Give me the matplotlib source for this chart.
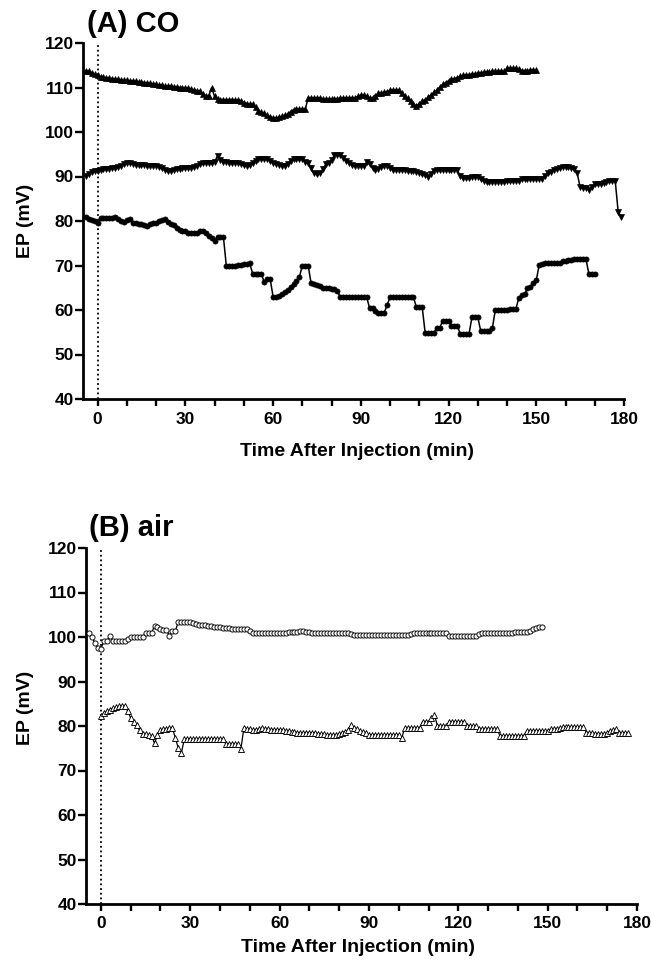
import numpy as np
import matplotlib
matplotlib.use("Agg")
import matplotlib.pyplot as plt

# ---------------- data (1-min sampling) ----------------
# Panel A (CO): three animals
co_top_start = -4
co_top = [113.8, 113.6, 113.3, 113.0, 112.7, 112.4, 112.3, 112.2, 112.1, 112.0,
          111.9, 111.8, 111.7, 111.6, 111.6, 111.5, 111.5, 111.4, 111.3, 111.2,
          111.1, 111.0, 110.9, 110.8, 110.7, 110.6, 110.5, 110.4, 110.3, 110.3,
          110.2, 110.1, 110.0, 110.0, 109.9, 109.8, 109.6, 109.4, 109.3, 109.2,
          108.5, 108.0, 108.2, 109.9, 108.0, 107.4, 107.3, 107.3, 107.2, 107.3,
          107.3, 107.2, 107.2, 107.0, 106.6, 106.4, 106.3, 106.2, 105.6, 104.8,
          104.4, 104.2, 103.8, 103.4, 103.2, 103.1, 103.3, 103.5, 103.8, 104.0,
          104.6, 105.0, 105.1, 105.1, 105.1, 105.1, 107.7, 107.7, 107.6, 107.7,
          107.6, 107.5, 107.4, 107.4, 107.4, 107.5, 107.5, 107.6, 107.6, 107.6,
          107.7, 107.7, 107.7, 108.0, 108.3, 108.3, 108.0, 107.7, 107.7, 108.2,
          108.7, 108.7, 108.9, 109.1, 109.4, 109.4, 109.4, 109.4, 108.7, 108.0,
          107.6, 107.0, 106.3, 105.8, 106.4, 107.0, 107.2, 107.8, 108.3, 108.9,
          109.4, 110.1, 110.7, 111.1, 111.5, 111.8, 112.0, 112.2, 112.5, 112.7,
          112.8, 112.9, 113.0, 113.1, 113.2, 113.3, 113.4, 113.5, 113.5, 113.6,
          113.6, 113.6, 113.6, 113.6, 114.3, 114.3, 114.3, 114.3, 114.2, 113.8,
          113.8, 113.8, 113.9, 113.9, 113.9]

co_mid_start = -4
co_mid = [90.2, 90.6, 91.0, 91.2, 91.3, 91.4, 91.6, 91.6, 91.6, 91.8,
          92.0, 92.2, 92.4, 92.7, 93.0, 93.1, 92.8, 92.6, 92.6, 92.5,
          92.5, 92.4, 92.4, 92.4, 92.4, 92.2, 91.8, 91.4, 91.3, 91.3,
          91.4, 91.6, 91.7, 91.8, 91.8, 91.9, 92.0, 92.2, 92.4, 92.7,
          93.0, 93.0, 93.0, 93.1, 93.3, 94.6, 93.6, 93.2, 93.2, 93.1,
          93.1, 93.0, 93.0, 92.8, 92.5, 92.4, 92.6, 93.0, 93.5, 93.9,
          93.9, 93.9, 93.9, 93.5, 93.0, 92.8, 92.6, 92.4, 92.4, 92.8,
          93.5, 93.9, 93.9, 93.9, 93.9, 93.2, 93.0, 92.0, 90.7, 90.6,
          90.7, 91.6, 92.7, 93.0, 93.7, 94.8, 94.8, 94.8, 94.2, 93.5,
          93.0, 92.5, 92.4, 92.4, 92.4, 92.4, 93.2, 92.8, 92.0, 91.5,
          91.7, 92.1, 92.4, 92.4, 92.0, 91.5, 91.5, 91.5, 91.4, 91.4,
          91.3, 91.3, 91.2, 91.0, 90.7, 90.6, 90.4, 90.0, 90.6, 91.3,
          91.5, 91.5, 91.5, 91.5, 91.5, 91.5, 91.5, 91.4, 90.2, 89.6,
          89.6, 89.7, 89.9, 90.0, 90.0, 89.4, 88.9, 88.8, 88.8, 88.8,
          88.8, 88.8, 88.8, 88.8, 88.9, 88.9, 88.9, 88.9, 89.0, 89.4,
          89.4, 89.4, 89.4, 89.4, 89.4, 89.4, 89.5, 90.2, 90.7, 91.0,
          91.5, 91.6, 91.8, 92.1, 92.2, 92.2, 92.0, 91.7, 90.7, 87.6,
          87.5, 87.4, 87.0, 87.6, 88.3, 88.3, 88.4, 88.6, 88.8, 89.0,
          89.0, 89.0, 82.1, 81.0]

co_bot_start = -4
co_bot = [80.8, 80.5, 80.2, 79.9, 79.6, 80.6, 80.6, 80.6, 80.6, 80.7,
          80.8, 80.4, 80.1, 79.7, 80.2, 80.4, 79.5, 79.5, 79.4, 79.4,
          79.0, 78.8, 79.4, 79.5, 79.6, 79.9, 80.3, 80.4, 79.8, 79.4,
          79.0, 78.5, 78.0, 77.8, 77.8, 77.3, 77.2, 77.2, 77.4, 77.8,
          77.7, 77.2, 76.6, 76.2, 75.6, 76.5, 76.5, 76.5, 70.0, 70.0,
          70.0, 70.0, 70.1, 70.2, 70.3, 70.3, 70.5, 68.2, 68.2, 68.1,
          68.1, 66.2, 67.0, 67.0, 63.0, 63.0, 63.2, 63.7, 64.1, 64.5,
          65.2, 65.8, 66.5, 67.4, 70.0, 70.0, 70.0, 66.0, 65.9, 65.7,
          65.5, 65.0, 64.9, 64.9, 64.8, 64.7, 64.2, 62.9, 62.9, 62.9,
          62.9, 62.9, 62.9, 62.9, 62.9, 62.9, 62.9, 60.4, 60.4, 59.8,
          59.4, 59.4, 59.4, 61.1, 62.9, 62.9, 62.9, 62.9, 62.9, 62.9,
          62.9, 62.9, 62.9, 60.6, 60.6, 60.6, 54.9, 54.9, 54.9, 54.9,
          56.0, 56.0, 57.6, 57.6, 57.6, 56.5, 56.5, 56.5, 54.6, 54.6,
          54.6, 54.6, 58.4, 58.4, 58.4, 55.3, 55.3, 55.3, 55.3, 56.0,
          60.0, 60.0, 60.0, 60.1, 60.1, 60.2, 60.2, 60.2, 62.6, 63.4,
          63.5, 64.9, 65.2, 66.0, 66.7, 70.1, 70.4, 70.5, 70.5, 70.5,
          70.5, 70.5, 70.6, 70.9, 71.1, 71.2, 71.3, 71.4, 71.4, 71.4,
          71.4, 71.4, 68.1, 68.1, 68.0]

# Panel B (air): two animals
air_circ_start = -4
air_circ = [100.8, 100.1, 98.6, 97.5, 97.4, 99.0, 99.1, 100.3, 99.1, 99.1,
            99.1, 99.0, 99.1, 99.5, 99.9, 100.0, 100.1, 100.1, 100.1, 100.8,
            100.8, 100.9, 102.5, 102.2, 101.9, 101.6, 101.6, 100.3, 101.4, 101.4,
            103.4, 103.4, 103.4, 103.4, 103.3, 103.1, 102.9, 102.8, 102.6, 102.6,
            102.5, 102.5, 102.3, 102.2, 102.2, 102.1, 102.0, 102.0, 101.9, 101.9,
            101.8, 101.8, 101.8, 101.7, 101.3, 100.9, 100.8, 100.8, 100.8, 100.8,
            100.8, 100.9, 100.9, 100.9, 101.0, 101.0, 101.0, 101.1, 101.1, 101.2,
            101.2, 101.3, 101.3, 101.2, 101.1, 101.0, 101.0, 100.9, 100.9, 100.8,
            100.8, 100.8, 100.8, 100.8, 100.8, 100.8, 100.8, 100.8, 100.6, 100.5,
            100.5, 100.5, 100.5, 100.5, 100.5, 100.5, 100.5, 100.5, 100.5, 100.5,
            100.5, 100.5, 100.5, 100.5, 100.5, 100.5, 100.5, 100.5, 100.6, 100.8,
            100.8, 100.8, 100.8, 100.8, 100.8, 100.8, 100.8, 100.8, 100.8, 100.8,
            100.8, 100.3, 100.2, 100.2, 100.2, 100.2, 100.2, 100.2, 100.2, 100.2,
            100.2, 100.6, 100.8, 100.8, 100.8, 100.8, 100.8, 100.8, 100.8, 100.8,
            100.8, 100.8, 101.0, 101.2, 101.2, 101.2, 101.2, 101.2, 101.4, 101.8,
            102.0, 102.3, 102.3]

air_tri_start = 0
air_tri = [82.2, 83.0, 83.3, 83.6, 84.0, 84.2, 84.4, 84.5, 84.4, 83.4,
           81.8, 80.9, 80.2, 79.0, 78.1, 78.1, 78.0, 77.8, 76.1, 78.0,
           79.1, 79.3, 79.4, 79.5, 79.5, 77.3, 75.0, 73.9, 77.0, 77.0,
           77.0, 77.0, 77.0, 77.0, 77.0, 77.0, 77.0, 77.0, 77.0, 77.0,
           77.0, 77.0, 75.9, 75.9, 75.9, 75.9, 75.9, 74.8, 79.5, 79.4,
           79.3, 79.1, 79.2, 79.3, 79.5, 79.4, 79.3, 79.2, 79.2, 79.1,
           79.1, 79.0, 78.9, 78.8, 78.7, 78.6, 78.5, 78.5, 78.5, 78.5,
           78.5, 78.5, 78.4, 78.3, 78.2, 78.1, 78.0, 78.0, 78.0, 78.0,
           78.2, 78.5, 78.7, 79.0, 80.2, 79.6, 79.3, 78.9, 78.7, 78.5,
           78.0, 78.0, 78.0, 78.0, 78.0, 78.0, 78.0, 78.0, 78.0, 78.0,
           78.0, 77.3, 79.5, 79.5, 79.5, 79.5, 79.5, 79.5, 81.0, 81.0,
           81.0, 81.7, 82.5, 80.0, 80.0, 80.0, 80.0, 81.0, 81.0, 81.0,
           81.0, 81.0, 81.0, 80.0, 80.0, 80.0, 80.0, 79.3, 79.3, 79.3,
           79.3, 79.3, 79.3, 79.3, 77.8, 77.8, 77.8, 77.8, 77.8, 77.8,
           77.8, 77.8, 77.8, 78.9, 78.9, 78.9, 78.9, 78.9, 78.9, 78.9,
           78.9, 79.3, 79.3, 79.3, 79.5, 79.7, 79.7, 79.7, 79.7, 79.7,
           79.7, 79.7, 79.7, 78.5, 78.4, 78.4, 78.3, 78.3, 78.2, 78.2,
           78.5, 78.9, 79.1, 79.3, 78.4, 78.4, 78.4, 78.4]

x_major = [0, 30, 60, 90, 120, 150, 180]
y_major = [40, 50, 60, 70, 80, 90, 100, 110, 120]
panel_titles = ["(A) CO", "(B) air"]
x_label = "Time After Injection (min)"
y_label = "EP (mV)"

# ---------------- figure ----------------
W, H = 651, 968
fig = plt.figure(figsize=(W / 100, H / 100), dpi=100)
fig.patch.set_facecolor("white")

FONT = ["Liberation Sans", "DejaVu Sans"]


def px_axes(left, right, top, bottom):
    return fig.add_axes([left / W, 1 - bottom / H, (right - left) / W, (bottom - top) / H])


def style_axes(ax):
    ax.set_xlim(-5, 180)
    ax.set_ylim(40, 120)
    for s in ["top", "right"]:
        ax.spines[s].set_visible(False)
    for s in ["left", "bottom"]:
        ax.spines[s].set_linewidth(2.0)
    ax.set_xticks(x_major)
    ax.set_xticks(np.arange(0, 181, 10), minor=True)
    ax.set_yticks(y_major)
    ax.tick_params(axis="both", which="both", direction="out", width=1.7, color="black")
    ax.tick_params(axis="y", which="major", length=6, pad=0.5)
    ax.tick_params(axis="x", which="major", length=5, pad=4)
    ax.tick_params(axis="x", which="minor", length=5)
    for lab in ax.get_xticklabels() + ax.get_yticklabels():
        lab.set_fontfamily(FONT)
        lab.set_fontweight("bold")
        lab.set_fontsize(12.5)
    ax.axvline(0, color="black", lw=1.3, ls=(0, (1.0, 1.6)), zorder=1)


def times(start, vals):
    return np.arange(start, start + len(vals))


# Panel A
axA = px_axes(83, 624, 43, 399)
style_axes(axA)
axA.plot(times(co_top_start, co_top), co_top, color="black", lw=1.1, marker="^",
         ms=4.0, mfc="black", mec="black", mew=0.5, zorder=3)
axA.plot(times(co_mid_start, co_mid), co_mid, color="black", lw=1.1, marker="v",
         ms=4.0, mfc="black", mec="black", mew=0.5, zorder=3)
axA.plot(times(co_bot_start, co_bot), co_bot, color="black", lw=1.1, marker="o",
         ms=3.7, mfc="black", mec="black", mew=0.5, zorder=3)

# Panel B
axB = px_axes(86, 637, 548, 904)
style_axes(axB)
axB.plot(times(air_circ_start, air_circ), air_circ, color="black", lw=0.9, marker="o",
         ms=3.7, mfc="white", mec="black", mew=0.65, zorder=3)
axB.plot(times(air_tri_start, air_tri), air_tri, color="black", lw=0.9, marker="^",
         ms=3.9, mfc="white", mec="black", mew=0.65, zorder=3)

# Titles and labels
fig.text(87 / W, 1 - 32 / H, panel_titles[0], fontsize=21, fontweight="bold",
         family=FONT, ha="left", va="baseline")
fig.text(89 / W, 1 - 536 / H, panel_titles[1], fontsize=21, fontweight="bold",
         family=FONT, ha="left", va="baseline")

fig.text(25 / W, 1 - 221 / H, y_label, fontsize=14, fontweight="bold", family=FONT,
         rotation=90, ha="center", va="center")
fig.text(25 / W, 1 - 708 / H, y_label, fontsize=14, fontweight="bold", family=FONT,
         rotation=90, ha="center", va="center")

fig.text(357 / W, 1 - 452 / H, x_label, fontsize=14, fontweight="bold", family=FONT,
         ha="center", va="center")
fig.text(358 / W, 1 - 948 / H, x_label, fontsize=14, fontweight="bold", family=FONT,
         ha="center", va="center")

fig.savefig("out.png", dpi=100, facecolor="white")
